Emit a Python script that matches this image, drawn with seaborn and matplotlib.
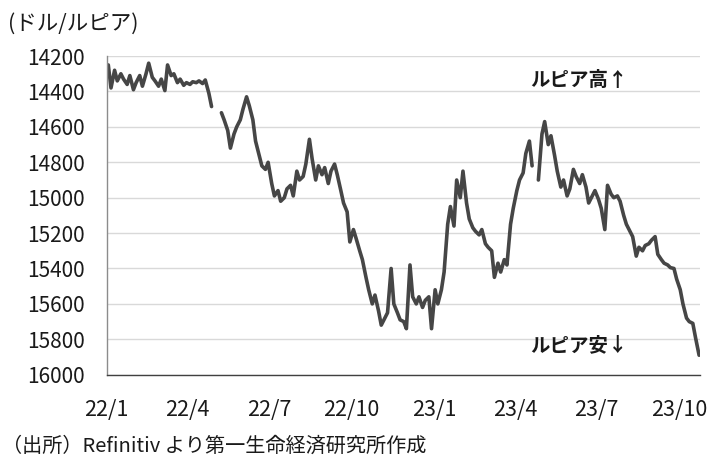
import numpy as np
import pandas as pd
import matplotlib
matplotlib.use("Agg")
import matplotlib.pyplot as plt
import seaborn as sns

sns.set_style("white")
plt.rcParams["font.family"] = ["Noto Sans CJK JP", "DejaVu Sans"]

# Observation dates: Mondays and Thursdays, Jan 2022 - Oct 2023
mondays = pd.date_range("2022-01-03", "2023-10-23", freq="W-MON")
thursdays = pd.date_range("2022-01-06", "2023-10-19", freq="W-THU")
dates = mondays.union(thursdays)

# USD/IDR values (NaN = gap in the line)
rates = [
    14250, 14380, 14280, 14340, 14300, 14330, 14360, 14310,   # Jan 2022
    14390, 14350, 14310, 14370, 14300, 14240, 14320, 14340,   # Feb
    14370, 14330, 14395, 14250, 14310, 14300, 14350, 14330,   # Mar
    14365, 14350, 14360, 14345, 14350, 14340, 14355, 14335,   # Apr
    14410, 14485, np.nan, np.nan, 14520, 14560, 14620, 14720, # May
    14640, 14600, 14560, 14500, 14430, 14480, 14560, 14680,   # Jun
    14760, 14820, 14840, 14800, 14920, 14990, 14960, 15020,   # Jul
    15000, 14950, 14930, 14990, 14850, 14900, 14880, 14810,   # Aug
    14670, 14780, 14900, 14820, 14870, 14830, 14920, 14850,   # Sep
    14810, 14870, 14960, 15030, 15080, 15250, 15180, 15230,   # Oct
    15300, 15350, 15450, 15520, 15600, 15550, 15640, 15720,   # Nov
    15680, 15650, 15400, 15600, 15650, 15690, 15700, 15740,   # Dec
    15380, 15560, 15600, 15560, 15620, 15580, 15560, 15740,   # Dec/Jan
    15520, 15600, 15520, 15420, 15150, 15050, 15160, 14900,   # Jan 2023
    15000, 14850, 15030, 15120, 15170, 15190, 15210, 15180,   # Feb
    15260, 15280, 15300, 15450, 15370, 15420, 15350, 15380,   # Mar
    15150, 15060, 14960, 14900, 14860, 14750, 14680, 14820,   # Apr
    np.nan, 14900, 14640, 14570, 14700, 14650, 14760, 14850,  # May
    14940, 14900, 14990, 14950, 14840, 14880, 14920, 14870,   # Jun
    14940, 15030, 14990, 14960, 15010, 15060, 15180, 14930,   # Jul
    14980, 15000, 14990, 15020, 15100, 15150, 15190, 15220,   # Aug
    15330, 15280, 15300, 15270, 15260, 15240, 15220, 15320,   # Sep
    15350, 15370, 15380, 15395, 15400, 15460, 15520, 15600,   # Sep/Oct
    15680, 15700, 15710, 15790, 15890,                        # Oct
]
assert len(rates) == len(dates)

y_ticks = [14200, 14400, 14600, 14800, 15000, 15200, 15400, 15600, 15800, 16000]
x_tick_dates = pd.to_datetime(["2022-01-01", "2022-04-01", "2022-07-01", "2022-10-01",
                               "2023-01-01", "2023-04-01", "2023-07-01", "2023-10-01"])
x_tick_labels = ["22/1", "22/4", "22/7", "22/10", "23/1", "23/4", "23/7", "23/10"]

df = pd.DataFrame({"date": dates, "rate": rates})
df["seg"] = df["rate"].isna().cumsum()
df = df.dropna()

fig = plt.figure(figsize=(7.11, 4.55), dpi=100)
ax = fig.add_axes([106.5 / 711, 1 - 374.7 / 455, (700 - 106.5) / 711, (374.7 - 56.1) / 455])

sns.lineplot(data=df, x="date", y="rate", units="seg", estimator=None,
             color="#464646", linewidth=2.6, ax=ax)

ax.set_ylim(16000, 14200)
ax.set_yticks(y_ticks)
ax.set_yticklabels([str(v) for v in y_ticks])
ax.set_xlim(pd.Timestamp("2022-01-01"), pd.Timestamp("2023-10-24"))
ax.set_xticks(x_tick_dates)
ax.set_xticklabels(x_tick_labels)
ax.set_xlabel("")
ax.set_ylabel("")

ax.grid(axis="y", color="#d9d9d9", linewidth=1.0)
ax.grid(axis="x", visible=False)
ax.set_axisbelow(True)
for s in ["top", "right"]:
    ax.spines[s].set_visible(False)
ax.spines["left"].set_color("#8c8c8c")
ax.spines["left"].set_linewidth(1.0)
ax.spines["bottom"].set_color("#404040")
ax.spines["bottom"].set_linewidth(1.0)

ax.tick_params(axis="y", length=0, pad=15.5, labelsize=15, labelcolor="#1a1a1a")
ax.tick_params(axis="x", direction="in", length=6, width=1, color="#404040",
               pad=17.5, labelsize=15.5, labelcolor="#1a1a1a")

fig.text(8 / 711, 1 - 24 / 455, "(ドル/ルピア)", fontsize=15.5, va="center", ha="left", color="#1a1a1a")
fig.text(530 / 711, 1 - 80 / 455, "ルピア高↑", fontsize=14, fontweight="bold", va="center", ha="left", color="#1a1a1a")
fig.text(530 / 711, 1 - 346 / 455, "ルピア安↓", fontsize=14, fontweight="bold", va="center", ha="left", color="#1a1a1a")
fig.text(2 / 711, 1 - 446 / 455, "（出所）Refinitiv より第一生命経済研究所作成", fontsize=14.5,
         va="center", ha="left", color="#1a1a1a")

fig.savefig("out.png", dpi=100)
